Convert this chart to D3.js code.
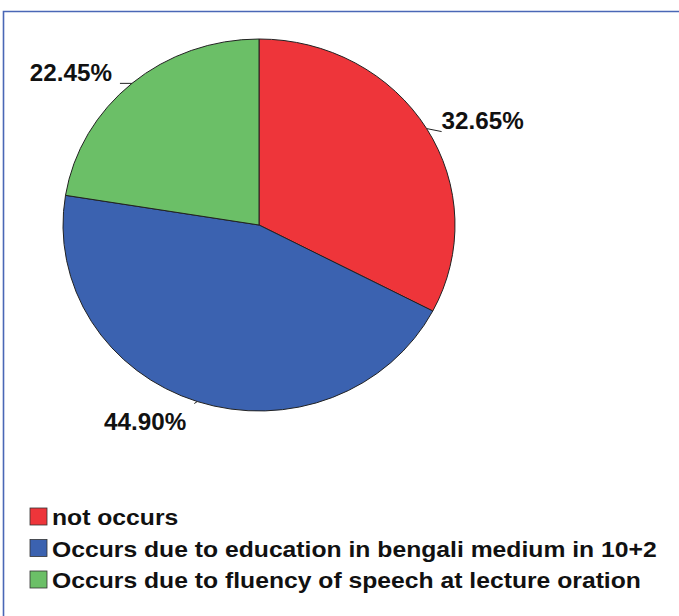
<!DOCTYPE html>
<html>
<head>
<meta charset="utf-8">
<script src="https://cdn.jsdelivr.net/npm/d3@7"></script>
<style>
  body { margin: 0; background: #fff; }
  text { font-family: "Liberation Sans", Arial, sans-serif; font-weight: bold; fill: #111; }
</style>
</head>
<body>
<svg width="679" height="616"></svg>
<script>
var categories = ["not occurs",
                  "Occurs due to education in bengali medium in 10+2",
                  "Occurs due to fluency of speech at lecture oration"];
var values = [32.65, 44.90, 22.45];
var labels = ["32.65%", "44.90%", "22.45%"];
var colors = ["#ee353a", "#3b62b0", "#6bbf67"];

var svg = d3.select("svg");
var cx = 259, cy = 225, r = 186, sx = 196 / 186;

// frame
svg.append("path")
    .attr("d", "M3.5,616 L3.5,11.5 L679,11.5")
    .attr("fill", "none")
    .attr("stroke", "#4a67b6")
    .attr("stroke-width", 1.6);

var pie = d3.pie().sort(null).value(function(d) { return d; });
var arcs = pie(values);
var arc = d3.arc().innerRadius(0).outerRadius(r);
var edge = d3.arc().innerRadius(r).outerRadius(r);

var g = svg.append("g")
    .attr("transform", "translate(" + cx + "," + cy + ") scale(" + sx + ",1)");

g.selectAll("path.slice")
    .data(arcs)
  .enter().append("path")
    .attr("class", "slice")
    .attr("d", arc)
    .attr("fill", function(d, i) { return colors[i]; })
    .attr("stroke", "#222")
    .attr("stroke-width", 1)
    .attr("vector-effect", "non-scaling-stroke");

// labels
var lab = svg.append("g");
arcs.forEach(function(d, i) {
  var c = edge.centroid(d);
  var ex = cx + c[0] * sx, ey = cy + c[1];
  var right = c[0] > 0, below = c[1] > 0;
  var lx, ly, tx, ty, anchor;
  if (right) {
    lx = ex + 15; ly = ey + 3; tx = ex + 15; ty = ey; anchor = "start";
  } else if (below) {
    lx = ex - 3; ly = ey + 2; tx = ex - 11; ty = ey + 28; anchor = "end";
  } else {
    lx = ex - 12; ly = ey; tx = ex - 20; ty = ey - 2; anchor = "end";
  }
  lab.append("line")
      .attr("x1", ex).attr("y1", ey)
      .attr("x2", lx).attr("y2", ly)
      .attr("stroke", "#222").attr("stroke-width", 1);
  lab.append("text")
      .attr("transform", "translate(" + tx + "," + ty + ") scale(" + sx + ",1)")
      .attr("text-anchor", anchor)
      .style("font-size", "23px")
      .text(labels[i]);
});

// legend
var legend = svg.append("g").attr("transform", "translate(30,508)");
var row = legend.selectAll("g")
    .data(categories)
  .enter().append("g")
    .attr("transform", function(d, i) { return "translate(0," + (i * 31.5) + ")"; });

row.append("rect")
    .attr("width", 17).attr("height", 17)
    .attr("fill", function(d, i) { return colors[i]; })
    .attr("stroke", "#333").attr("stroke-width", 0.8);

row.append("text")
    .attr("transform", "translate(22,17) scale(" + (sx * 1.02) + ",1)")
    .style("font-size", "23px")
    .text(function(d) { return d; });
</script>
</body>
</html>
